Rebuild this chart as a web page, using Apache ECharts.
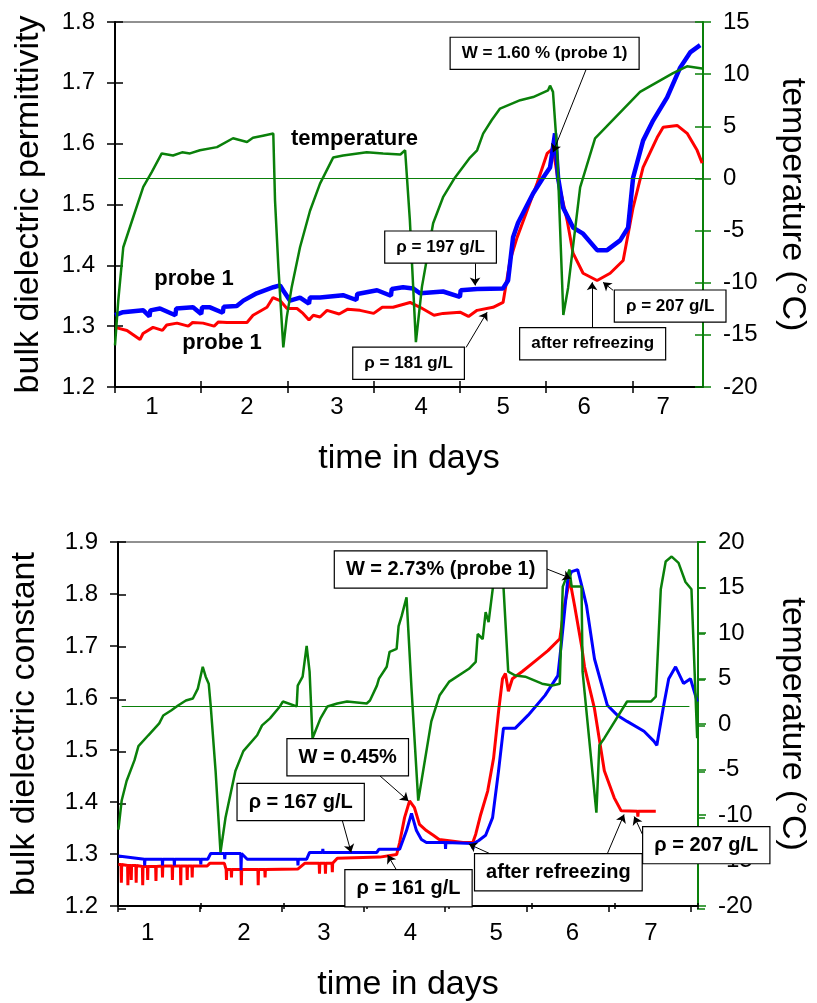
<!DOCTYPE html>
<html><head><meta charset="utf-8">
<script src="https://cdn.jsdelivr.net/npm/echarts@6/dist/echarts.min.js"></script>
<style>html,body{margin:0;padding:0;background:#fff}#c{width:817px;height:1003px}</style>
</head><body><div id="c"></div>
<script>
// ---------------- TOP CHART DATA ----------------
const topXTicks = [0.5, 1.5, 2.5, 3.5, 4.5, 5.5, 6.5];
const topXLabels = ['1', '2', '3', '4', '5', '6', '7'];
const topXLabelPos = [0.929, 2.031, 3.075, 4.05, 5.001, 5.941, 6.857];

const topBlue = [[0.5,1.318],[0.593,1.323],[0.829,1.326],[0.9,1.316],[0.91,1.326],[1.022,1.329],[1.2,1.318],[1.21,1.329],
 [1.405,1.331],[1.5,1.32],[1.51,1.331],[1.602,1.331],[1.75,1.322],[1.76,1.332],[1.912,1.333],
 [1.989,1.342],[2.144,1.354],[2.337,1.364],[2.414,1.367],[2.449,1.359],[2.53,1.342],[2.646,1.347],[2.75,1.337],[2.76,1.347],[2.878,1.347],
 [3.145,1.351],[3.3,1.343],[3.31,1.353],[3.54,1.359],[3.7,1.35],[3.71,1.361],[3.841,1.364],[3.957,1.362],[4.039,1.354],[4.305,1.357],
 [4.5,1.348],[4.51,1.359],[4.70,1.361],[5.0,1.362],
 [5.059,1.375],[5.117,1.446],[5.175,1.47],[5.349,1.518],[5.465,1.544],[5.546,1.561],[5.604,1.617],[5.639,1.544],
 [5.697,1.495],[5.813,1.462],[5.929,1.452],[6.092,1.425],[6.208,1.425],[6.359,1.441],[6.451,1.462],[6.509,1.544],
 [6.625,1.605],[6.741,1.638],[6.904,1.676],[7.055,1.725],[7.171,1.75],[7.287,1.762]];

const topRed = [[0.5,1.298],[0.639,1.293],[0.79,1.278],[0.825,1.288],[0.941,1.298],[1.05,1.293],[1.1,1.302],[1.219,1.305],
 [1.35,1.3],[1.4,1.306],[1.521,1.305],[1.65,1.3],[1.7,1.307],
 [1.799,1.306],[2.031,1.306],[2.101,1.318],[2.263,1.331],[2.333,1.347],[2.414,1.342],[2.495,1.329],[2.611,1.329],
 [2.681,1.321],[2.75,1.31],[2.8,1.318],[2.878,1.315],[2.959,1.326],[3.1,1.32],[3.2,1.328],[3.342,1.326],[3.5,1.321],[3.6,1.331],
 [3.725,1.331],[3.922,1.339],[4.039,1.331],[4.2,1.318],[4.305,1.321],
 [4.502,1.323],[4.6,1.316],[4.7,1.326],[4.885,1.331],[5.001,1.339],[5.082,1.408],[5.164,1.446],[5.28,1.49],[5.396,1.535],[5.512,1.584],
 [5.581,1.592],[5.639,1.54],[5.744,1.474],[5.813,1.42],[5.929,1.387],[6.092,1.375],[6.243,1.387],[6.394,1.408],
 [6.509,1.495],[6.625,1.561],[6.788,1.61],[6.858,1.627],[7.02,1.63],[7.136,1.617],[7.252,1.589],[7.31,1.568]];

const topTemp = [[0.5,-16.0],[0.538,-11.7],[0.596,-6.6],[0.712,-3.7],[0.828,-0.8],[0.926,0.6],[1.042,2.4],[1.173,2.2],
 [1.278,2.5],[1.37,2.4],[1.485,2.7],[1.683,3.0],[1.869,3.85],[2.031,3.5],[2.1,3.9],[2.216,4.1],[2.336,4.3],
 [2.356,-2.1],[2.395,-8.5],[2.452,-16.2],[2.492,-13.3],[2.55,-10.4],[2.646,-6.6],[2.762,-3.1],[2.878,-0.5],
 [3.03,2.0],[3.146,2.2],[3.42,2.5],[3.61,2.4],[3.81,2.3],[3.865,2.7],[3.92,-4.0],[3.99,-15.7],[4.06,-10.4],
 [4.19,-4.3],[4.305,-1.8],[4.444,0.1],[4.618,2.0],[4.7,2.7],[4.77,4.3],[4.87,5.6],[4.966,6.7],[5.2,7.5],[5.35,7.8],
 [5.523,8.45],[5.546,8.9],[5.58,8.3],[5.63,2.4],[5.70,-13.1],[5.755,-10.5],[5.895,-0.85],[6.068,3.85],[6.59,8.3],
 [6.973,10.1],[7.135,10.75],[7.31,10.55]];
const topTempRefLine = [[0.538, 0], [7.32, 0]];

const topBoxes = [[5.483,1.7485,'W = 1.60 % (probe 1)'],[4.276,1.430,'ρ = 197 g/L'],[3.905,1.239,'ρ = 181 g/L'],
 [6.04,1.271,'after refreezing'],[6.939,1.333,'ρ = 207 g/L']];
const topArrows = [[5.964,1.722,5.581,1.586],[4.676,1.403,4.676,1.367],[4.572,1.265,4.816,1.323],
 [6.034,1.298,6.034,1.372],[6.277,1.359,6.161,1.372]];
const topTexts = [[3.278,1.607,'temperature'],[1.416,1.377,'probe 1'],[1.741,1.273,'probe 1']];

// ---------------- BOTTOM CHART DATA ----------------
const botXTicks = [0.5, 1.5, 2.5, 3.5, 4.5, 5.5, 6.5, 7.5];
const botXLabels = ['1', '2', '3', '4', '5', '6', '7'];
const botXLabelPos = [0.863, 2.04, 3.016, 4.074, 5.123, 6.056, 7.014];

const botBlue = [[0.505,1.296],[0.823,1.29],[0.826,1.278],[0.83,1.29],[1.04,1.29],[1.044,1.278],[1.048,1.29],
 [1.185,1.29],[1.189,1.278],[1.193,1.29],[1.508,1.29],[1.512,1.28],[1.516,1.29],[1.597,1.29],[1.633,1.301],
 [1.80,1.301],[1.805,1.29],[1.81,1.301],[2.0,1.301],[2.004,1.269],[2.01,1.301],[2.032,1.301],[2.08,1.29],
 [2.696,1.29],[2.70,1.278],[2.704,1.29],[2.806,1.29],[2.842,1.303],[3.0,1.303],[3.004,1.31],[3.008,1.303],
 [3.664,1.303],[3.689,1.309],[3.943,1.309],[4.027,1.345],[4.088,1.378],[4.148,1.345],[4.209,1.328],[4.27,1.322],
 [4.5,1.322],[4.504,1.31],[4.508,1.322],[4.837,1.320],[4.84,1.31],[4.845,1.32],[4.91,1.326],[4.994,1.336],
 [5.079,1.370],[5.152,1.460],[5.212,1.542],[5.357,1.542],[5.514,1.567],[5.72,1.605],[5.877,1.643],[5.926,1.714],
 [5.998,1.828],[6.046,1.843],[6.119,1.847],[6.18,1.809],[6.228,1.777],[6.325,1.675],[6.482,1.586],[6.603,1.567],
 [6.724,1.555],[6.93,1.536],[7.05,1.517],[7.087,1.509],[7.171,1.586],[7.232,1.637],[7.316,1.66],[7.413,1.628],
 [7.498,1.637],[7.558,1.605],[7.582,1.593]];

const botRed = [[0.505,1.28],[0.537,1.28],[0.541,1.245],[0.545,1.28],[0.617,1.278],[0.621,1.24],[0.625,1.278],
 [0.658,1.278],[0.662,1.25],[0.666,1.278],[0.718,1.278],[0.722,1.245],[0.726,1.278],[0.798,1.276],[0.802,1.24],
 [0.806,1.276],[0.859,1.276],[0.863,1.25],[0.867,1.276],[0.96,1.276],[0.964,1.248],[0.968,1.276],[1.04,1.277],
 [1.044,1.255],[1.048,1.277],[1.161,1.277],[1.165,1.25],[1.169,1.277],[1.263,1.277],[1.267,1.24],[1.271,1.277],
 [1.342,1.277],[1.346,1.25],[1.35,1.277],[1.403,1.277],[1.407,1.255],[1.411,1.277],[1.59,1.277],[1.621,1.282],
 [1.80,1.282],[1.822,1.27],[1.826,1.25],[1.83,1.27],[1.883,1.27],[1.887,1.255],[1.891,1.27],[2.004,1.27],
 [2.008,1.24],[2.012,1.27],[2.21,1.27],[2.214,1.24],[2.218,1.27],[2.294,1.27],[2.298,1.255],[2.302,1.27],
 [2.697,1.271],[2.782,1.282],[2.959,1.282],[2.963,1.262],[2.967,1.282],[3.032,1.282],[3.036,1.262],[3.04,1.282],
 [3.116,1.282],[3.12,1.265],[3.124,1.282],[3.181,1.292],[3.70,1.294],[3.906,1.299],[3.943,1.322],[4.003,1.37],
 [4.064,1.402],[4.124,1.389],[4.185,1.357],[4.269,1.345],[4.354,1.336],[4.426,1.328],[4.717,1.322],[4.837,1.322],
 [4.873,1.338],[4.934,1.376],[5.019,1.421],[5.091,1.484],[5.152,1.574],[5.2,1.637],[5.236,1.647],[5.272,1.613],
 [5.321,1.637],[5.442,1.651],[5.599,1.671],[5.756,1.691],[5.901,1.714],[5.961,1.781],[6.022,1.828],[6.082,1.777],
 [6.167,1.70],[6.203,1.66],[6.324,1.58],[6.445,1.46],[6.566,1.408],[6.651,1.383],[6.85,1.382],[6.855,1.372],
 [6.86,1.382],[7.074,1.382]];

const botTemp = [[0.505,-11.6],[0.545,-8.4],[0.605,-6.26],[0.702,-3.97],[0.75,-2.44],[0.871,-1.24],[1.004,0.07],
 [1.053,0.94],[1.149,1.49],[1.234,2.03],[1.33,2.58],[1.415,2.8],[1.476,3.89],[1.536,6.29],[1.572,5.2],[1.609,4.43],
 [1.633,2.03],[1.693,-5.17],[1.753,-14.1],[1.814,-10.3],[1.935,-5.17],[2.032,-2.98],[2.201,-1.24],[2.261,-0.15],
 [2.358,0.62],[2.479,1.93],[2.515,2.47],[2.684,1.93],[2.697,4.22],[2.757,5.2],[2.806,8.58],[2.842,5.75],
 [2.878,-1.56],[2.975,0.62],[3.06,1.93],[3.18,2.25],[3.30,2.47],[3.54,2.25],[3.58,2.58],[3.665,4.22],[3.69,4.98],
 [3.785,6.29],[3.82,7.93],[3.906,8.26],[3.93,10.76],[3.967,11.85],[4.027,13.92],[4.088,3.89],[4.17,-8.42],
 [4.23,-5.17],[4.33,0.29],[4.43,3.13],[4.55,4.66],[4.79,6.07],[4.873,6.83],[4.897,9.89],[4.958,9.34],[4.994,12.29],
 [5.03,11.2],[5.08,14.8],[5.103,15.0],[5.15,18.0],[5.212,15.1],[5.27,5.75],[5.357,5.33],[5.478,5.2],[5.684,4.43],
 [5.805,4.22],[5.90,4.43],[5.937,15.1],[6.02,16.97],[6.045,15.1],[6.166,15.1],[6.179,5.75],[6.348,-9.74],
 [6.384,-2.33],[6.445,-1.56],[6.723,2.47],[7.014,2.47],[7.074,3.02],[7.135,14.8],[7.195,17.85],[7.268,18.4],
 [7.352,17.7],[7.437,15.6],[7.51,14.8],[7.58,-1.56]];
const botTempRefLine = [[0.545, 1.9], [7.485, 1.9]];

const botBoxes = [[4.444,1.847,'W = 2.73% (probe 1)'],[3.308,1.486,'W = 0.45%'],[2.733,1.40,'ρ = 167 g/L'],
 [4.051,1.234,'ρ = 161 g/L'],[5.883,1.265,'after refreezing'],[7.691,1.317,'ρ = 207 g/L']];
const botArrows = [[5.696,1.851,6.035,1.83],[3.689,1.452,4.051,1.402],[3.241,1.365,3.35,1.303],
 [3.905,1.269,3.796,1.298],[5.055,1.30,4.789,1.319],[6.48,1.30,6.686,1.376],[6.94,1.328,6.81,1.372]];

// ---------------- BUILD ----------------
const FONT = '"Liberation Sans", Arial, Helvetica, sans-serif';
const GREEN = '#0a800a';

const charts = [
 { grid:{left:115, top:22, width:588, height:365}, xMin:0.5, xMax:7.32, xTicks:topXTicks, xLabels:topXLabels,
   xLabelPos:topXLabelPos, xLabelMargin:8, xNameGap:55, yMin:1.2, yMax:1.8, yName:'bulk dielectric permittivity',
   yNameGap:69, tMin:-20, tMax:15, tNameGap:72, blue:topBlue, red:topRed, temp:topTemp, ref:topTempRefLine,
   boxes:topBoxes, arrows:topArrows, texts:topTexts, boxFont:17, boxPad:[7,11], blueW:4.5, redW:3 },
 { grid:{left:118, top:542, width:587, height:367}, xMin:0.5, xMax:7.59, xTicks:botXTicks, xLabels:botXLabels,
   xLabelPos:botXLabelPos, xLabelMargin:15, xNameGap:62, yMin:1.2, yMax:1.9, yName:'bulk dielectric constant',
   yNameGap:76, tMin:-20, tMax:20, tNameGap:77, blue:botBlue, red:botRed, temp:botTemp, ref:botTempRefLine,
   boxes:botBoxes, arrows:botArrows, texts:[], boxFont:20, boxPad:[8,11], blueW:3, redW:3 }
];

const option = { animation:false, backgroundColor:'#fff', grid:[], xAxis:[], yAxis:[], series:[] };

function nearestLabel(v, pos, labels) {
  let bi = 0, bd = 1e9;
  pos.forEach((p, i) => { const d = Math.abs(p - v); if (d < bd) { bd = d; bi = i; } });
  return bd < 0.01 ? labels[bi] : '';
}

charts.forEach((c, k) => {
  const g = c.grid;
  option.grid.push({left:g.left, top:g.top, width:g.width, height:g.height, show:true, borderColor:'#222', borderWidth:1, containLabel:false});
  option.grid.push({left:g.left, top:g.top, width:g.width, height:g.height, show:false, containLabel:false});
  const gm = 2*k, gt = 2*k+1;
  const txt = {color:'#000', fontFamily:FONT};
  option.xAxis.push({type:'value', gridIndex:gm, min:c.xMin, max:c.xMax, position:'bottom',
    axisLine:{show:true, onZero:false, lineStyle:{color:'#000', width:2}},
    axisTick:{show:true, customValues:c.xTicks, length:6, lineStyle:{color:'#000', width:1.5}},
    axisLabel:{show:true, customValues:c.xLabelPos, formatter:v => nearestLabel(v, c.xLabelPos, c.xLabels),
      fontSize:24, margin:c.xLabelMargin, ...txt},
    splitLine:{show:false},
    name:'time in days', nameLocation:'middle', nameGap:c.xNameGap, nameTextStyle:{fontSize:34, ...txt}});
  option.xAxis.push({type:'value', gridIndex:gt, min:c.xMin, max:c.xMax, position:'bottom',
    axisLine:{show:false, onZero:false}, axisTick:{show:true, inside:true, customValues:c.xTicks, length:6, lineStyle:{color:'#000', width:1.5}},
    axisLabel:{show:false}, splitLine:{show:false}});
  // y axes: main left, main right, tick left, tick right
  option.yAxis.push({type:'value', gridIndex:gm, position:'left', min:c.yMin, max:c.yMax, interval:0.1,
    axisLine:{show:true, onZero:false, lineStyle:{color:'#000', width:2}},
    axisTick:{show:true, length:8, lineStyle:{color:'#000', width:1.5}},
    axisLabel:{formatter:v => v.toFixed(1), fontSize:24, margin:20, ...txt}, splitLine:{show:false},
    name:c.yName, nameLocation:'middle', nameGap:c.yNameGap, nameTextStyle:{fontSize:34, ...txt}});
  option.yAxis.push({type:'value', gridIndex:gm, position:'right', min:c.tMin, max:c.tMax, interval:5,
    axisLine:{show:true, onZero:false, lineStyle:{color:GREEN, width:2}},
    axisTick:{show:true, length:8, lineStyle:{color:GREEN, width:1.5}},
    axisLabel:{formatter:v => String(Math.round(v)), fontSize:24, margin:20, ...txt}, splitLine:{show:false},
    name:'temperature (°C)', nameLocation:'middle', nameRotate:-90, nameGap:c.tNameGap, nameTextStyle:{fontSize:34, ...txt}});
  option.yAxis.push({type:'value', gridIndex:gt, position:'left', min:c.yMin, max:c.yMax, interval:0.1,
    axisLine:{show:false, onZero:false}, axisTick:{show:true, inside:true, length:8, lineStyle:{color:'#000', width:1.5}},
    axisLabel:{show:false}, splitLine:{show:false}});
  option.yAxis.push({type:'value', gridIndex:gt, position:'right', min:c.tMin, max:c.tMax, interval:5,
    axisLine:{show:false, onZero:false}, axisTick:{show:true, inside:true, length:8, lineStyle:{color:GREEN, width:1.5}},
    axisLabel:{show:false}, splitLine:{show:false}});
  const xi = 2*k, yl = 4*k, yr = 4*k+1;
  option.series.push({type:'line', xAxisIndex:xi, yAxisIndex:yl, data:c.red, showSymbol:false, symbol:'none',
    lineStyle:{color:'#ff0000', width:c.redW}, z:2, silent:true});
  option.series.push({type:'line', xAxisIndex:xi, yAxisIndex:yl, data:c.blue, showSymbol:false, symbol:'none',
    lineStyle:{color:'#0000ff', width:c.blueW}, z:3, silent:true});
  option.series.push({type:'line', xAxisIndex:xi, yAxisIndex:yr, data:c.temp, showSymbol:false, symbol:'none',
    lineStyle:{color:GREEN, width:2.5}, z:4, silent:true,
    markLine:{silent:true, symbol:'none', label:{show:false}, lineStyle:{color:GREEN, width:1.2, type:'solid'},
      data:[[{coord:c.ref[0]}, {coord:c.ref[1]}]]}});
  option.series.push({type:'scatter', xAxisIndex:xi, yAxisIndex:yl, clip:false, z:10, silent:true,
    symbol:'rect', symbolSize:1, itemStyle:{color:'transparent', opacity:1},
    data:c.boxes.map(b => ({value:[b[0], b[1]], name:b[2]})),
    label:{show:true, position:'inside', formatter:p => p.name, fontSize:c.boxFont, fontWeight:'bold',
      color:'#000', opacity:1, fontFamily:FONT, backgroundColor:'#ffffff', borderColor:'#000', borderWidth:1.2,
      padding:c.boxPad},
    markLine:{silent:true, symbol:['none','arrow'], symbolSize:8, label:{show:false},
      lineStyle:{color:'#000', width:1, type:'solid', opacity:1},
      data:c.arrows.map(a => [{coord:[a[0], a[1]]}, {coord:[a[2], a[3]]}])}});
  if (c.texts.length) {
    option.series.push({type:'scatter', xAxisIndex:xi, yAxisIndex:yl, clip:false, z:9, silent:true,
      symbol:'rect', symbolSize:1, itemStyle:{color:'transparent', opacity:1},
      data:c.texts.map(b => ({value:[b[0], b[1]], name:b[2]})),
      label:{show:true, position:'inside', formatter:p => p.name, fontSize:22, fontWeight:'bold',
        color:'#000', opacity:1, fontFamily:FONT}});
  }
});

const chart = echarts.init(document.getElementById('c'), null, {renderer:'canvas'});
chart.setOption(option);
</script></body></html>
